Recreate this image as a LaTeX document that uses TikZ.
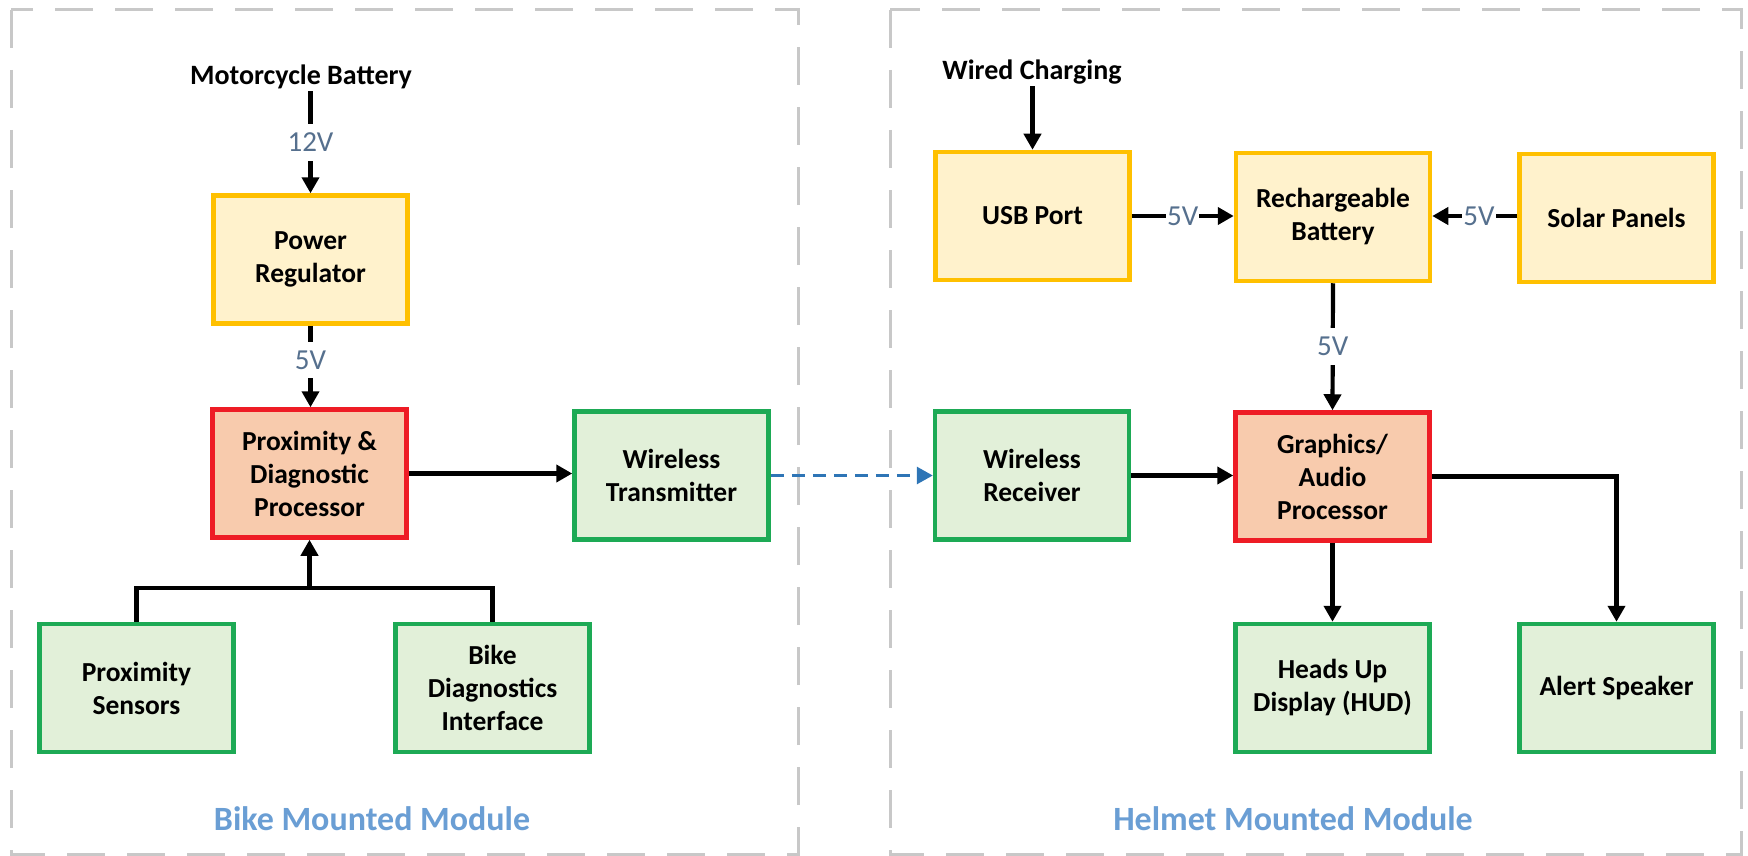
\documentclass[tikz,border=0pt]{standalone}
\usepackage{fontspec}
\setmainfont{Carlito}
\usetikzlibrary{arrows.meta}
\definecolor{yelfill}{HTML}{FFF2CC}
\definecolor{yelline}{HTML}{FFC000}
\definecolor{redfill}{HTML}{F8CBAD}
\definecolor{redline}{HTML}{EE1C25}
\definecolor{grnfill}{HTML}{E2F0D9}
\definecolor{grnline}{HTML}{1DAA55}
\definecolor{voltc}{HTML}{56708E}
\definecolor{titlec}{HTML}{6A9ED4}
\definecolor{framec}{HTML}{C8C8C8}
\definecolor{linkc}{HTML}{2E75B6}
\begin{document}
\begin{tikzpicture}[x=1pt,y=-1pt,
  blk/.style={draw, line width=4.5pt, minimum width=194pt, minimum height=128pt,
    align=center, inner sep=0pt, font=\fontsize{27.5}{33}\selectfont\bfseries},
  pwr/.style={blk, draw=yelline, fill=yelfill},
  cpu/.style={blk, draw=redline, fill=redfill},
  io/.style={blk, draw=grnline, fill=grnfill},
  src/.style={font=\fontsize{28}{32}\selectfont\bfseries, inner sep=2pt},
  vlab/.style={fill=white, text=voltc, font=\fontsize{29}{32}\selectfont,
    inner xsep=1pt, inner ysep=9pt},
  arr/.style={line width=4.2pt, -{Triangle[length=16pt,width=17pt]}},
  wire/.style={line width=4.2pt},
  link/.style={line width=3pt, draw=linkc, dash pattern=on 13pt off 8pt,
    -{Triangle[length=16pt,width=17pt]}},
  frame/.style={draw=framec, line width=3pt, dash pattern=on 38pt off 22pt},
  title/.style={text=titlec, font=\fontsize{34}{40}\selectfont\bfseries}
]
\useasboundingbox (0,0) rectangle (1748,856);

% module frames
\draw[frame] (11,10) rectangle (798,854);
\draw[frame] (890,10) rectangle (1741,854);
\node[title] (bikettl) at (372,819) {Bike Mounted Module};
\node[title] (helmttl) at (1293,819) {Helmet Mounted Module};

% bike mounted module
\node[src] (mbat) at (301,77) {Motorcycle Battery};
\node[pwr] (preg) at (310.5,259.5) {Power\\Regulator};
\node[cpu] (pdp) at (309.5,473.5) {Proximity \&\\Diagnostic\\Processor};
\node[io] (wtx) at (671.5,475.5) {Wireless\\Transmitter};
\node[io] (psen) at (136.5,688) {Proximity\\Sensors};
\node[io] (bdi) at (492.5,688) {Bike\\Diagnostics\\Interface};
\coordinate (join) at (309.5,588);

\draw[arr] (mbat.south -| preg.north) -- node[vlab]{12V} (preg.north);
\draw[arr] (preg.south) -- node[vlab, pos=0.42]{5V} (preg.south |- pdp.north);
\draw[arr] (pdp.east) -- (pdp.east -| wtx.west);
\draw[wire] (psen.north) |- (join) -| (bdi.north);
\draw[arr] (join) -- (pdp.south);

% helmet mounted module
\node[src] (wchg) at (1032,72) {Wired Charging};
\node[pwr] (usb) at (1032.5,216) {USB Port};
\node[pwr] (rbat) at (1333,217) {Rechargeable\\Battery};
\node[pwr] (solar) at (1616.5,218) {Solar Panels};
\node[io] (wrx) at (1032,475.5) {Wireless\\Receiver};
\node[cpu] (gap) at (1332.5,476.5) {Graphics/\\Audio\\Processor};
\node[io] (hud) at (1332.5,688) {Heads Up\\Display (HUD)};
\node[io] (spk) at (1616.5,688) {Alert Speaker};

\draw[arr] (wchg.south -| usb.north) -- (usb.north);
\draw[arr] (usb.east) -- node[vlab]{5V} (usb.east -| rbat.west);
\draw[arr] (solar.west |- usb.east) -- node[vlab, pos=0.45]{5V} (rbat.east |- usb.east);
\draw[arr] (rbat.south) -- node[vlab]{5V} (gap.north);
\draw[arr] (wrx.east) -- (wrx.east -| gap.west);
\draw[arr] (gap.east) -| (spk.north);
\draw[arr] (gap.south) -- (hud.north);

% wireless link between the modules
\draw[link] (wtx.east) -- (wtx.east -| wrx.west);
\end{tikzpicture}
\end{document}
